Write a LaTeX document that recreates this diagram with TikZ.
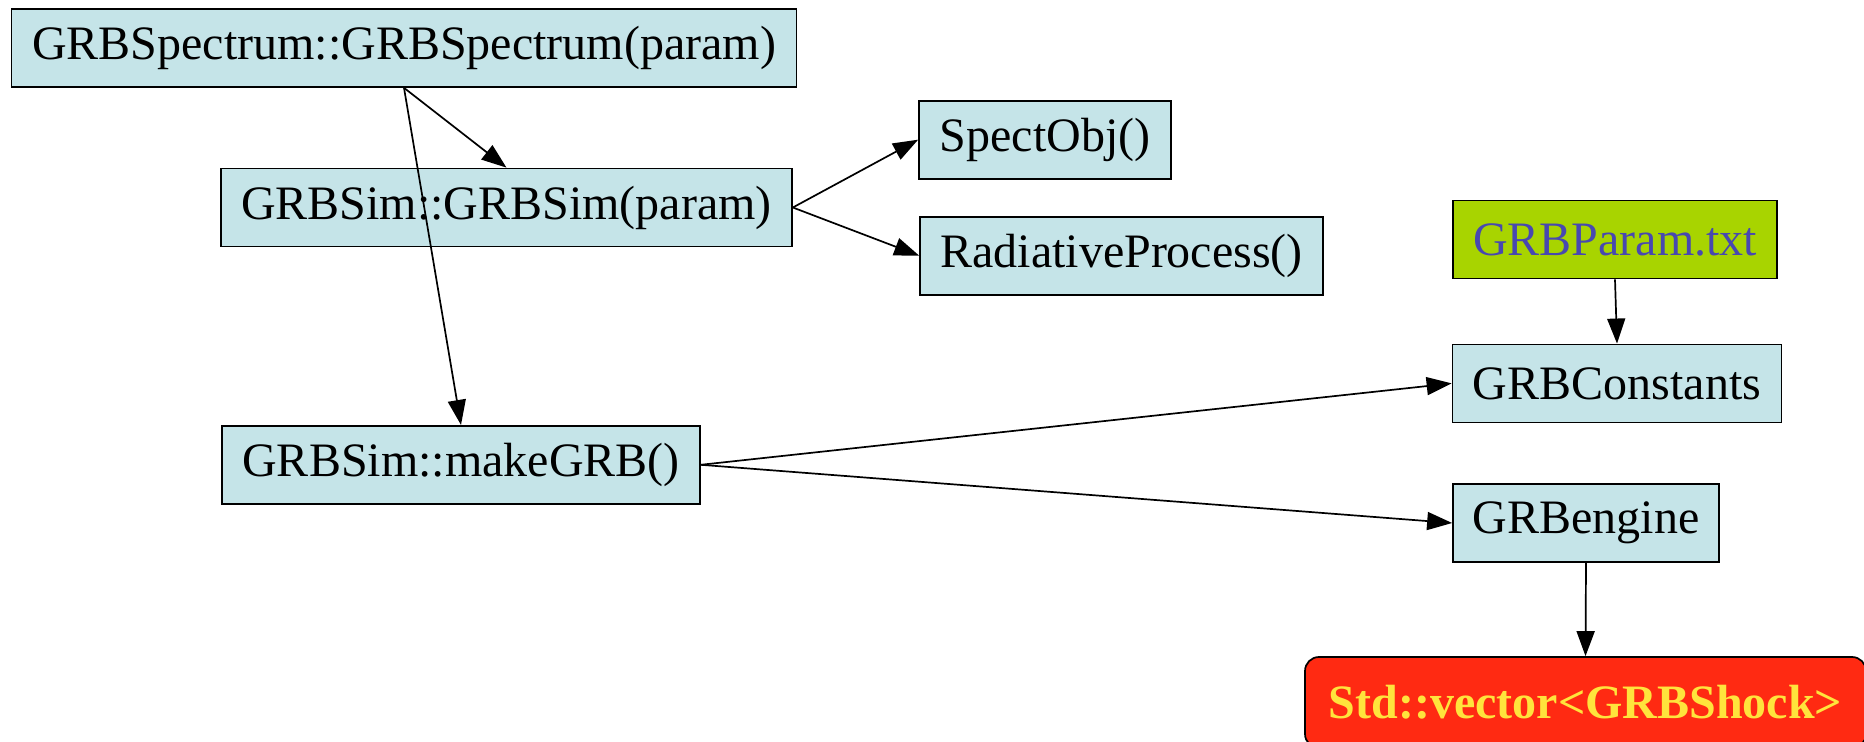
\documentclass[tikz,border=0pt]{standalone}
\usepackage{fontspec}
\setmainfont{Liberation Serif}
\usetikzlibrary{arrows.meta}
\definecolor{boxfill}{RGB}{197,228,232}
\definecolor{filegreen}{RGB}{168,212,0}
\definecolor{fileblue}{RGB}{72,72,176}
\definecolor{shockred}{RGB}{255,42,18}
\definecolor{shockyellow}{RGB}{255,228,60}
\tikzset{
  func/.style={draw=black, line width=0.85pt, fill=boxfill, inner sep=0pt,
    minimum height=39pt, text=black, font=\fontsize{24}{28}\selectfont},
  datafile/.style={func, fill=filegreen, text=fileblue},
  result/.style={draw=black, line width=0.85pt, fill=shockred, rounded corners=7pt,
    inner sep=0pt, text=shockyellow, font=\fontsize{24}{28}\selectfont\bfseries},
  call/.style={draw=black, line width=0.85pt,
    -{Triangle[length=12.5pt,width=9pt]}}
}
\begin{document}
\begin{tikzpicture}[x=0.5pt, y=-0.5pt]
  \useasboundingbox (0,0) rectangle (1864,742);
  % call graph nodes
  \node[func, minimum width=392.5pt] (spec)  at (404,48)      {GRBSpectrum::GRBSpectrum(param)};
  \node[func, minimum width=285.5pt] (sim)   at (506.5,207.5) {GRBSim::GRBSim(param)};
  \node[func, minimum width=126pt]   (obj)   at (1045,139.7)  {SpectObj()};
  \node[func, minimum width=201.5pt] (rad)   at (1121.6,255.7){RadiativeProcess()};
  \node[datafile, minimum width=162pt] (par) at (1615,239.5)  {GRBParam.txt};
  \node[func, minimum width=164.5pt] (cst)   at (1617,383.4)  {GRBConstants};
  \node[func, minimum width=239pt]   (make)  at (461,464.8)   {GRBSim::makeGRB()};
  \node[func, minimum width=133pt]   (eng)   at (1586,523)    {GRBengine};
  \node[result, minimum width=280.5pt, minimum height=45.5pt] (shock) at (1585.5,702.5)
       {Std::vector<GRBShock>};
  % calls
  \draw[call] (spec.south) -- (sim.north);
  \draw[call] (spec.south) -- (make.north);
  \draw[call] (sim.east) -- (obj.west);
  \draw[call] (sim.east) -- (rad.west);
  \draw[call] (par.south) -- (cst.north);
  \draw[call] (make.east) -- (cst.west);
  \draw[call] (make.east) -- (eng.west);
  \draw[call] (eng.south) -- (shock.north);
\end{tikzpicture}
\end{document}
